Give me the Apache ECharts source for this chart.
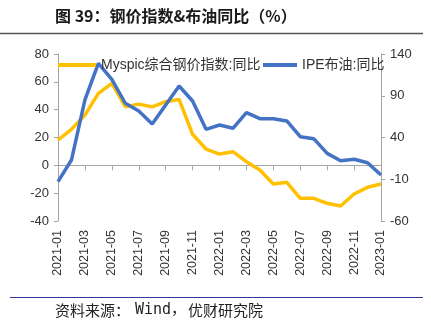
<!DOCTYPE html>
<html>
<head>
<meta charset="utf-8">
<script src="https://cdn.jsdelivr.net/npm/echarts@6/dist/echarts.min.js"></script>
<style>html,body{margin:0;padding:0;background:#fff}#c{width:431px;height:335px}</style>
</head>
<body>
<div id="c"></div>
<script>
const months = ['2021-01','2021-02','2021-03','2021-04','2021-05','2021-06','2021-07','2021-08','2021-09','2021-10','2021-11','2021-12',
  '2022-01','2022-02','2022-03','2022-04','2022-05','2022-06','2022-07','2022-08','2022-09','2022-10','2022-11','2022-12','2023-01'];
const steelName = 'Myspic综合钢价指数:同比';
const oilName = 'IPE布油:同比';
const steelYoY = [18.2, 25.9, 36.1, 51.7, 58.9, 42.1, 44.0, 42.0, 45.7, 47.4, 22.3, 11.7,
  8.1, 9.8, 2.6, -3.4, -13.4, -12.2, -23.7, -23.7, -27.3, -29.2, -20.6, -15.8, -13.4];
const oilYoY = [-12.9, 13, 85, 128.8, 109.7, 81, 71.7, 56.2, 78.9, 101.7, 83.7, 49.8,
  55, 51, 69.7, 62.5, 62.5, 59.8, 41, 38.6, 21, 12.2, 13.9, 9.8, -4.9];
const leftTicks = {min: -40, max: 80, interval: 20};
const rightTicks = {min: -60, max: 140, interval: 50};

const axisGray = '#a6a6a6';
const txt = '#333';
const latin = "'Liberation Sans', 'Noto Sans CJK SC', sans-serif";
const chart = echarts.init(document.getElementById('c'), null, {renderer: 'canvas'});
chart.setOption({
  animation: false,
  backgroundColor: '#fff',
  grid: {left: 58, right: 50, top: 54, bottom: 114, containLabel: false},
  graphic: [
    {type: 'text', left: 55, top: 8, style: {text: '图 39：钢价指数&布油同比（%）', font: "bold 16px 'Noto Sans CJK SC', sans-serif", fill: '#1a1a1a'}},
    {type: 'line', shape: {x1: 0, y1: 33.5, x2: 423, y2: 33.5}, style: {stroke: '#555', lineWidth: 1.5}},
    {type: 'line', shape: {x1: 10, y1: 297.5, x2: 423, y2: 297.5}, style: {stroke: '#2e3a9e', lineWidth: 1}},
    {type: 'text', left: 55, top: 303, style: {text: '资料来源：', font: "15px 'Noto Sans CJK SC', sans-serif", fill: '#222'}},
    {type: 'text', left: 135, top: 303, style: {text: 'Wind，', font: "15px 'DejaVu Sans Mono', 'Noto Sans CJK SC', monospace", fill: '#222'}},
    {type: 'text', left: 188, top: 303, style: {text: '优财研究院', font: "15px 'Noto Sans CJK SC', sans-serif", fill: '#222'}}
  ],
  legend: [
    {left: 58, top: 58, padding: 0, icon: 'rect', itemWidth: 38, itemHeight: 4, data: [steelName],
      textStyle: {fontSize: 14, color: txt, fontFamily: latin}},
    {left: 263, top: 58, padding: 0, icon: 'rect', itemWidth: 34, itemHeight: 4, data: [oilName],
      textStyle: {fontSize: 14, color: txt, fontFamily: latin}}
  ],
  xAxis: [
    {type: 'category', data: months, boundaryGap: false, position: 'bottom',
      axisLine: {show: false, onZero: false},
      axisTick: {show: false},
      axisLabel: {interval: 1, rotate: 90, margin: 9, fontSize: 12.5, color: txt, fontFamily: latin},
      splitLine: {show: false}},
    {type: 'category', data: months, boundaryGap: false, position: 'bottom',
      axisLine: {show: true, onZero: true, onZeroAxisIndex: 0, lineStyle: {color: axisGray, width: 1}},
      axisTick: {show: true, interval: 1, length: 5, lineStyle: {color: axisGray}},
      axisLabel: {show: false},
      splitLine: {show: false}}
  ],
  yAxis: [
    {type: 'value', min: leftTicks.min, max: leftTicks.max, interval: leftTicks.interval, position: 'left',
      axisLine: {show: true, onZero: false, lineStyle: {color: axisGray}},
      axisTick: {show: true, length: 4, lineStyle: {color: axisGray}},
      axisLabel: {margin: 9, fontSize: 13, color: txt, fontFamily: latin},
      splitLine: {show: false}},
    {type: 'value', min: rightTicks.min, max: rightTicks.max, interval: rightTicks.interval, position: 'right',
      axisLine: {show: true, onZero: false, lineStyle: {color: axisGray}},
      axisTick: {show: true, length: 4, lineStyle: {color: axisGray}},
      axisLabel: {margin: 9, fontSize: 13, color: txt, fontFamily: latin},
      splitLine: {show: false}}
  ],
  series: [
    {name: steelName, type: 'line', xAxisIndex: 0, yAxisIndex: 0, data: steelYoY, symbol: 'none', color: '#FFC000',
      lineStyle: {width: 3.5, color: '#FFC000'}, z: 2},
    {name: oilName, type: 'line', xAxisIndex: 0, yAxisIndex: 1, data: oilYoY, symbol: 'none', color: '#4472C4',
      lineStyle: {width: 3.5, color: '#4472C4'}, z: 3}
  ]
});
</script>
</body>
</html>
